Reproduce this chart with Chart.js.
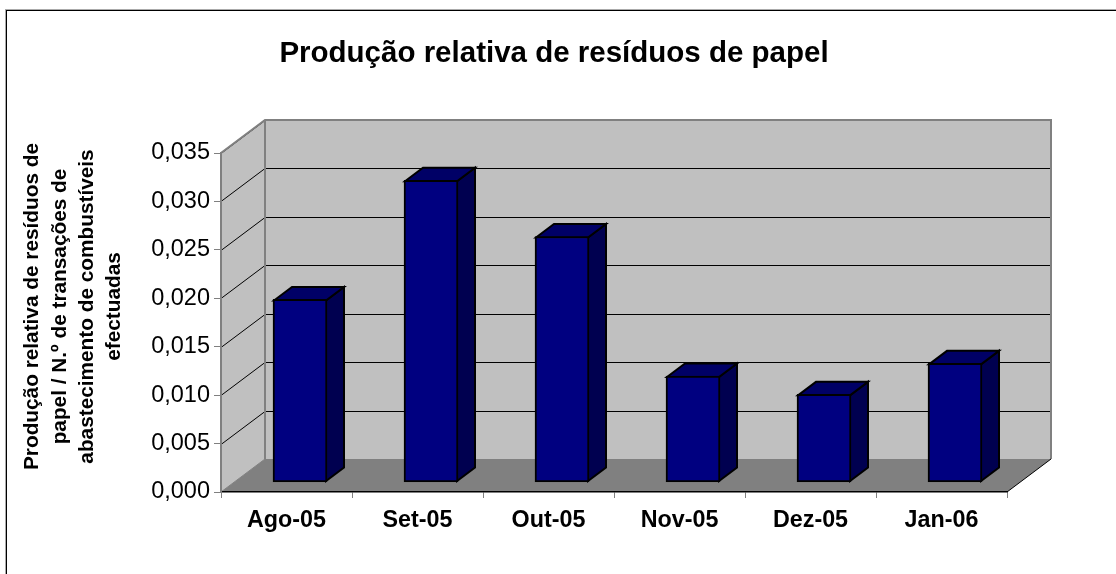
<!DOCTYPE html>
<html><head><meta charset="utf-8">
<style>html,body{margin:0;padding:0;background:#fff}canvas{display:block}</style>
<script src="https://cdn.jsdelivr.net/npm/chart.js@4/dist/chart.umd.min.js"></script>
</head><body><canvas id="c" width="1116" height="574"></canvas>
<script>
const categories = ["Ago-05","Set-05","Out-05","Nov-05","Dez-05","Jan-06"];
const values = [0.0189,0.0312,0.0254,0.0110,0.0091,0.0123];
const chartTitle = "Produção relativa de resíduos de papel";
const yTitleLines = ["Produção relativa de resíduos de","papel / N.º de transações de","abastecimento de combustíveis","efectuadas"];
const FONT = '"Liberation Sans", Arial, sans-serif';
const DX = 44, DY = 33, BX = 13.5, BY = 9.5, SX = 18, SY = 13.5;

const scene3d = {
  id:'scene3d',
  beforeDraw(ch){
    const {ctx,chartArea:a,scales:{y}} = ch;
    ctx.save();
    ctx.fillStyle='#fff'; ctx.fillRect(0,0,ch.width,ch.height);
    ctx.lineWidth=1;
    ctx.strokeStyle='#aaa';
    ctx.strokeRect(5.5,9.5,1130,600);
    ctx.strokeStyle='#000';
    ctx.strokeRect(6.5,10.5,1130,600);
    // walls
    ctx.fillStyle='#C0C0C0';
    ctx.fillRect(a.left+DX,a.top-DY,a.width,a.height);
    ctx.beginPath();ctx.moveTo(a.left,a.top);ctx.lineTo(a.left+DX,a.top-DY);ctx.lineTo(a.left+DX,a.bottom-DY);ctx.lineTo(a.left,a.bottom);ctx.closePath();ctx.fill();
    // floor
    ctx.fillStyle='#808080';
    ctx.beginPath();ctx.moveTo(a.left,a.bottom);ctx.lineTo(a.left+DX,a.bottom-DY);ctx.lineTo(a.right+DX,a.bottom-DY);ctx.lineTo(a.right,a.bottom);ctx.closePath();ctx.fill();
    // gridlines
    ctx.strokeStyle='#000';ctx.lineWidth=1;
    y.ticks.forEach(t=>{
      if(t.value===0) return;
      const p=Math.round(y.getPixelForValue(t.value))+.5;
      ctx.beginPath();ctx.moveTo(a.left,p);ctx.lineTo(a.left+DX,p-DY);ctx.lineTo(a.right+DX,p-DY);ctx.stroke();
    });
    // wall outlines
    ctx.strokeStyle='#808080';ctx.lineWidth=2;
    ctx.beginPath();ctx.moveTo(a.left,a.bottom);ctx.lineTo(a.left,a.top);ctx.lineTo(a.left+DX,a.top-DY);ctx.lineTo(a.right+DX,a.top-DY);ctx.lineTo(a.right+DX,a.bottom-DY);ctx.stroke();
    ctx.beginPath();ctx.moveTo(a.left+DX,a.top-DY);ctx.lineTo(a.left+DX,a.bottom-DY);ctx.stroke();
    // floor front right edge
    ctx.strokeStyle='#000';ctx.lineWidth=1;
    ctx.beginPath();ctx.moveTo(a.right,a.bottom);ctx.lineTo(a.right+DX,a.bottom-DY);ctx.stroke();
    ctx.beginPath();ctx.moveTo(a.left,a.bottom);ctx.lineTo(a.left+DX,a.bottom-DY);ctx.strokeStyle='#808080';ctx.stroke();
    // y axis title
    ctx.fillStyle='#000';ctx.font='bold 20.8px '+FONT;ctx.textAlign='center';ctx.textBaseline='middle';
    const xs=[32,60,87,114];
    yTitleLines.forEach((l,i)=>{ctx.save();ctx.translate(xs[i],306.5);ctx.rotate(-Math.PI/2);ctx.fillText(l,0,0);ctx.restore();});
    ctx.restore();
  },
  beforeDatasetsDraw(ch){
    const ctx=ch.ctx;
    ctx.save();
    ctx.translate(BX,-BY);
    ch.getDatasetMeta(0).data.forEach(b=>{
      const l=b.x-b.width/2+1,r=b.x+b.width/2-1,t=b.y+1,bt=b.base-1;
      ctx.lineWidth=2;ctx.strokeStyle='#000';ctx.lineJoin='miter';
      ctx.fillStyle='#000050';
      ctx.beginPath();ctx.moveTo(r,t);ctx.lineTo(r+SX,t-SY);ctx.lineTo(r+SX,bt-SY);ctx.lineTo(r,bt);ctx.closePath();ctx.fill();ctx.stroke();
      ctx.fillStyle='#000066';
      ctx.beginPath();ctx.moveTo(l,t);ctx.lineTo(l+SX,t-SY);ctx.lineTo(r+SX,t-SY);ctx.lineTo(r,t);ctx.closePath();ctx.fill();ctx.stroke();
    });
  },
  afterDatasetsDraw(ch){ ch.ctx.restore(); }
};

new Chart(document.getElementById('c'),{
  type:'bar',
  data:{labels:categories,datasets:[{data:values,backgroundColor:'#000080',borderColor:'#000',borderWidth:2,barThickness:54,borderSkipped:false}]},
  plugins:[scene3d],
  options:{
    responsive:false,animation:false,
    layout:{padding:{left:101,right:109,top:0,bottom:0}},
    plugins:{
      legend:{display:false},tooltip:{enabled:false},
      title:{display:true,text:chartTitle,color:'#000',font:{family:FONT,size:29.5,weight:'bold',lineHeight:1},padding:{top:39,bottom:84.5}}
    },
    scales:{
      x:{afterFit(s){s.height=82;},
         grid:{drawOnChartArea:false,drawTicks:true,tickLength:6,color:'#808080',offset:true},
         border:{color:'#000',width:1.5},
         ticks:{color:'#000',padding:9,maxRotation:0,font:{family:FONT,size:23.3,weight:'bold'}}},
      y:{min:0,max:0.035,afterFit(s){s.width=120;},
         grid:{drawOnChartArea:false,drawTicks:true,tickLength:7,color:'#808080'},
         border:{color:'#808080',width:2},
         ticks:{stepSize:0.005,color:'#000',padding:4,font:{family:FONT,size:23.5},callback:v=>v.toFixed(3).replace('.',',')}}
    }
  }
});
</script></body></html>
